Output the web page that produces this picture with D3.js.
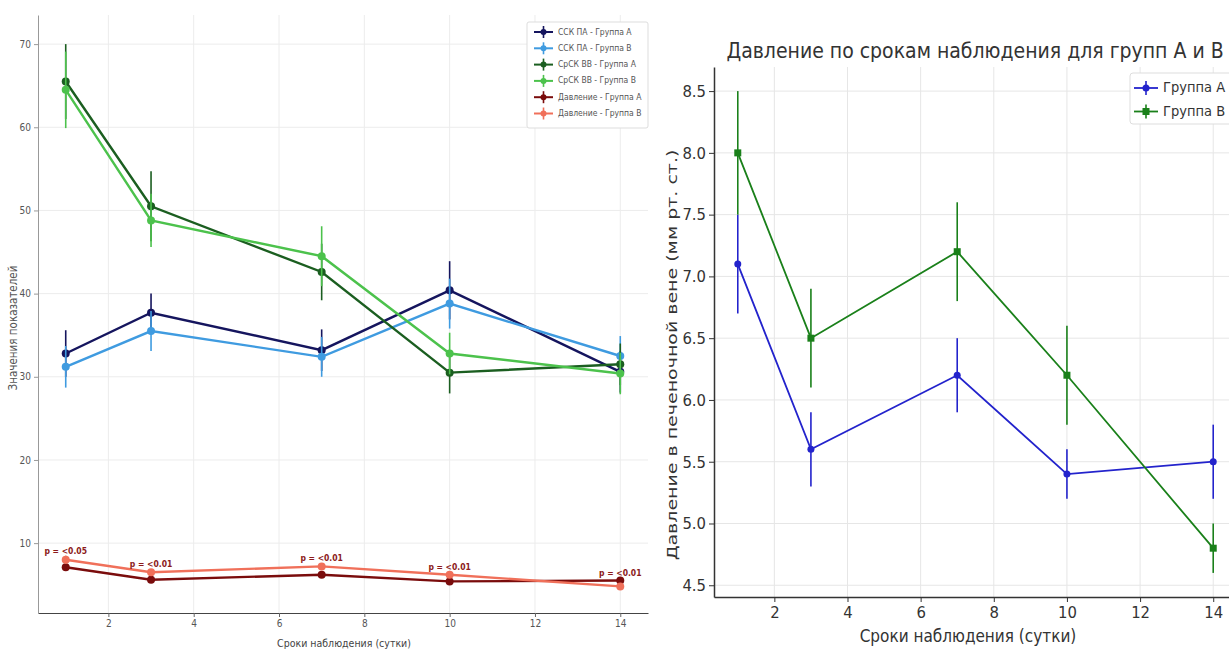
<!DOCTYPE html>
<html>
<head>
<meta charset="utf-8">
<script src="https://cdn.jsdelivr.net/npm/d3@7"></script>
<style>
  body { margin: 0; background: #fff; }
  text { font-family: "DejaVu Sans Condensed", "DejaVu Sans", sans-serif; font-stretch: condensed; }
</style>
</head>
<body>
<svg id="canvas" width="1229" height="651"></svg>
<script>
// observation days
let days = [1, 3, 7, 10, 14]

// left chart: all indicators
let sskA = [32.8, 37.7, 33.2, 40.4, 30.6]
let sskAErr = [2.8, 2.3, 2.5, 3.5, 2.5]
let sskB = [31.2, 35.5, 32.4, 38.8, 32.5]
let sskBErr = [2.5, 2.4, 2.4, 3.0, 2.4]
let srA = [65.5, 50.5, 42.6, 30.5, 31.5]
let srAErr = [4.5, 4.2, 3.4, 2.5, 2.5]
let srB = [64.5, 48.8, 44.5, 32.8, 30.4]
let srBErr = [4.6, 3.2, 3.6, 2.5, 2.5]

// pressure (used in both charts)
let presA = [7.1, 5.6, 6.2, 5.4, 5.5]
let presAErr = [0.4, 0.3, 0.3, 0.2, 0.3]
let presB = [8.0, 6.5, 7.2, 6.2, 4.8]
let presBErr = [0.5, 0.4, 0.4, 0.4, 0.2]

let pLabels = ["p = <0.05", "p = <0.01", "p = <0.01", "p = <0.01", "p = <0.01"]

let leftNames = ["ССК ПА - Группа А", "ССК ПА - Группа В", "СрСК ВВ - Группа А",
                 "СрСК ВВ - Группа В", "Давление - Группа А", "Давление - Группа В"]
let rightNames = ["Группа А", "Группа В"]

let xTicks = [2, 4, 6, 8, 10, 12, 14]
let leftYTicks = [10, 20, 30, 40, 50, 60, 70]
let rightYTicks = [4.5, 5.0, 5.5, 6.0, 6.5, 7.0, 7.5, 8.0, 8.5]

let leftSeries = [
    {name: leftNames[0], values: sskA, errs: sskAErr, color: "#15155e"},
    {name: leftNames[1], values: sskB, errs: sskBErr, color: "#3f9be0"},
    {name: leftNames[2], values: srA, errs: srAErr, color: "#1b5e20"},
    {name: leftNames[3], values: srB, errs: srBErr, color: "#4cc24c"},
    {name: leftNames[4], values: presA, errs: presAErr, color: "#7a0c0c"},
    {name: leftNames[5], values: presB, errs: presBErr, color: "#f0705a"}
]
let rightSeries = [
    {name: rightNames[0], values: presA, errs: presAErr, color: "#2323cc", marker: "circle"},
    {name: rightNames[1], values: presB, errs: presBErr, color: "#1a801a", marker: "square"}
]

let canvas = d3.select("#canvas")
canvas.append("rect").attr("width", 1229).attr("height", 651).attr("fill", "#fff")

// ---------- left chart ----------
let L = {left: 38, right: 648, top: 15, bottom: 613}
let xL = d3.scaleLinear().domain([0.35, 14.65]).range([L.left, L.right])
let yL = d3.scaleLinear().domain([1.6, 73.5]).range([L.bottom, L.top])

let gl = canvas.append("g")

gl.selectAll(".vgrid").data(xTicks).enter().append("line")
    .attr("x1", d => xL(d)).attr("x2", d => xL(d))
    .attr("y1", L.top).attr("y2", L.bottom)
    .attr("stroke", "#ececec").attr("stroke-width", 1)
gl.selectAll(".hgrid").data(leftYTicks).enter().append("line")
    .attr("x1", L.left).attr("x2", L.right)
    .attr("y1", d => yL(d)).attr("y2", d => yL(d))
    .attr("stroke", "#ececec").attr("stroke-width", 1)

let drawSeries = (g, series, x, y, lw, ew, r) => {
    series.forEach(s => {
        let pts = days.map((d, i) => ({x: d, v: s.values[i], e: s.errs[i]}))
        g.selectAll(null).data(pts).enter().append("line")
            .attr("x1", d => x(d.x)).attr("x2", d => x(d.x))
            .attr("y1", d => y(d.v - d.e)).attr("y2", d => y(d.v + d.e))
            .attr("stroke", s.color).attr("stroke-width", ew)
        g.append("path").datum(pts)
            .attr("d", d3.line().x(d => x(d.x)).y(d => y(d.v)))
            .attr("fill", "none").attr("stroke", s.color).attr("stroke-width", lw)
        if (s.marker === "square") {
            g.selectAll(null).data(pts).enter().append("rect")
                .attr("x", d => x(d.x) - r).attr("y", d => y(d.v) - r)
                .attr("width", 2 * r).attr("height", 2 * r).attr("fill", s.color)
        } else {
            g.selectAll(null).data(pts).enter().append("circle")
                .attr("cx", d => x(d.x)).attr("cy", d => y(d.v))
                .attr("r", r).attr("fill", s.color)
        }
    })
}

drawSeries(gl, leftSeries, xL, yL, 2.4, 1.6, 4)

// p-value annotations
gl.selectAll(".pval").data(days).enter().append("text")
    .attr("x", d => xL(d))
    .attr("y", (d, i) => yL(Math.max(presA[i] + presAErr[i], presB[i] + presBErr[i]) + 0.5))
    .attr("text-anchor", "middle").attr("dominant-baseline", "middle")
    .attr("font-size", 8.5).attr("font-weight", "bold").attr("fill", "#8b1a1a")
    .text((d, i) => pLabels[i])

let axL = gl.append("g").attr("transform", "translate(0," + L.bottom + ")")
    .call(d3.axisBottom(xL).tickValues(xTicks).tickSize(4).tickSizeOuter(0))
axL.select(".domain").attr("stroke", "#444")
axL.selectAll(".tick line").attr("stroke", "#666")
axL.selectAll("text").attr("font-size", 10).attr("fill", "#555")

let ayL = gl.append("g").attr("transform", "translate(" + L.left + ",0)")
    .call(d3.axisLeft(yL).tickValues(leftYTicks).tickSize(4).tickSizeOuter(0))
ayL.select(".domain").attr("stroke", "#999")
ayL.selectAll(".tick line").attr("stroke", "#999")
ayL.selectAll("text").attr("font-size", 10).attr("fill", "#555")

gl.append("text").attr("x", 344).attr("y", 647)
    .attr("text-anchor", "middle").attr("font-size", 10.5).attr("fill", "#444")
    .text("Сроки наблюдения (сутки)")
gl.append("text").attr("transform", "translate(17,328) rotate(-90)")
    .attr("text-anchor", "middle").attr("font-size", 11.5).attr("fill", "#555")
    .text("Значения показателей")

// left legend
let lgL = gl.append("g").attr("transform", "translate(527,22)")
lgL.append("rect").attr("width", 121).attr("height", 106).attr("rx", 2)
    .attr("fill", "#fff").attr("stroke", "#ddd")
leftSeries.forEach((s, i) => {
    let yy = 10 + i * 16.3
    lgL.append("line").attr("x1", 7).attr("x2", 26).attr("y1", yy).attr("y2", yy)
        .attr("stroke", s.color).attr("stroke-width", 2)
    lgL.append("line").attr("x1", 16.5).attr("x2", 16.5).attr("y1", yy - 6).attr("y2", yy + 6)
        .attr("stroke", s.color).attr("stroke-width", 1.6)
    lgL.append("circle").attr("cx", 16.5).attr("cy", yy).attr("r", 3).attr("fill", s.color)
    lgL.append("text").attr("x", 31).attr("y", yy).attr("dominant-baseline", "middle")
        .attr("font-size", 8.5).attr("fill", "#555").text(s.name)
})

// ---------- right chart ----------
let R = {left: 714, right: 1237, top: 67, bottom: 597}
let xR = d3.scaleLinear().domain([0.35, 14.65]).range([R.left, R.right])
let yR = d3.scaleLinear().domain([4.405, 8.695]).range([R.bottom, R.top])

let gr = canvas.append("g")

gr.selectAll(".vgrid").data(xTicks).enter().append("line")
    .attr("x1", d => xR(d)).attr("x2", d => xR(d))
    .attr("y1", R.top).attr("y2", R.bottom)
    .attr("stroke", "#e6e6e6").attr("stroke-width", 1)
gr.selectAll(".hgrid").data(rightYTicks).enter().append("line")
    .attr("x1", R.left).attr("x2", R.right)
    .attr("y1", d => yR(d)).attr("y2", d => yR(d))
    .attr("stroke", "#e6e6e6").attr("stroke-width", 1)

drawSeries(gr, rightSeries, xR, yR, 1.8, 1.6, 3.5)

let axR = gr.append("g").attr("transform", "translate(0," + R.bottom + ")")
    .call(d3.axisBottom(xR).tickValues(xTicks).tickSize(5).tickSizeOuter(0))
axR.select(".domain").attr("stroke", "#333").attr("stroke-width", 1.5)
axR.selectAll(".tick line").attr("stroke", "#333")
axR.selectAll("text").attr("font-size", 16.5).attr("fill", "#333").attr("dy", "0.8em")

let ayR = gr.append("g").attr("transform", "translate(" + R.left + ",0)")
    .call(d3.axisLeft(yR).tickValues(rightYTicks).tickFormat(d3.format(".1f")).tickSize(5).tickSizeOuter(0))
ayR.select(".domain").attr("stroke", "#333").attr("stroke-width", 1.5)
ayR.selectAll(".tick line").attr("stroke", "#333")
ayR.selectAll("text").attr("font-size", 16.5).attr("fill", "#333")

gr.append("text").attr("x", 975).attr("y", 58)
    .attr("text-anchor", "middle").attr("font-size", 21).attr("fill", "#333")
    .text("Давление по срокам наблюдения для групп А и В")
gr.append("text").attr("x", 968).attr("y", 642)
    .attr("text-anchor", "middle").attr("font-size", 17).attr("fill", "#333")
    .text("Сроки наблюдения (сутки)")
gr.append("text").attr("transform", "translate(677,355) rotate(-90) scale(1,0.7)")
    .attr("text-anchor", "middle").attr("font-size", 19).attr("fill", "#333")
    .style("font-family", "'DejaVu Sans', sans-serif").style("font-stretch", "normal")
    .text("Давление в печеночной вене (мм рт. ст.)")

// right legend
let lgR = gr.append("g").attr("transform", "translate(1130,73)")
lgR.append("rect").attr("width", 110).attr("height", 51).attr("rx", 3)
    .attr("fill", "#fff").attr("stroke", "#ddd")
rightSeries.forEach((s, i) => {
    let yy = 15 + i * 23.5
    lgR.append("line").attr("x1", 4).attr("x2", 28).attr("y1", yy).attr("y2", yy)
        .attr("stroke", s.color).attr("stroke-width", 1.8)
    lgR.append("line").attr("x1", 16).attr("x2", 16).attr("y1", yy - 7).attr("y2", yy + 7)
        .attr("stroke", s.color).attr("stroke-width", 1.6)
    if (s.marker === "square") {
        lgR.append("rect").attr("x", 12.5).attr("y", yy - 3.5).attr("width", 7).attr("height", 7).attr("fill", s.color)
    } else {
        lgR.append("circle").attr("cx", 16).attr("cy", yy).attr("r", 3.5).attr("fill", s.color)
    }
    lgR.append("text").attr("x", 33).attr("y", yy).attr("dominant-baseline", "middle")
        .attr("font-size", 14.5).attr("fill", "#333").text(s.name)
})
</script>
</body>
</html>
